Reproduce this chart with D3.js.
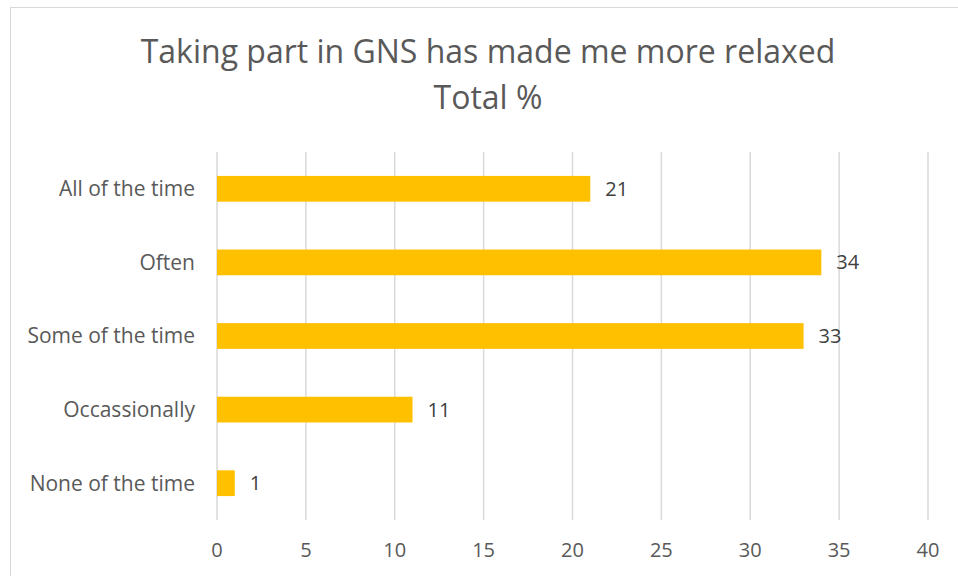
<!DOCTYPE html>
<html>
<head>
<meta charset="utf-8">
<script src="https://cdn.jsdelivr.net/npm/d3@7"></script>
<style>
  html, body { margin: 0; padding: 0; background: #fff; }
  svg { display: block; font-family: "Open Sans", "Liberation Sans", sans-serif; }
</style>
</head>
<body>
<svg id="chart" width="958" height="576"></svg>
<script>
// Survey responses, percentage of total
const categories = ["All of the time", "Often", "Some of the time", "Occassionally", "None of the time"];
const values = [21, 34, 33, 11, 1];
const xTicks = [0, 5, 10, 15, 20, 25, 30, 35, 40];
const titleLines = ["Taking part in GNS has made me more relaxed", "Total %"];

const svg = d3.select("#chart");

// chart area outline
svg.append("rect")
  .attr("x", 10.5).attr("y", 7.5)
  .attr("width", 960).attr("height", 600)
  .attr("fill", "#fff").attr("stroke", "#d9d9d9").attr("stroke-width", 1);

const x = d3.scaleLinear().domain([0, 40]).range([217, 928]);
const y = d3.scaleBand().domain(categories).range([152, 520])
  .paddingInner(0.65).paddingOuter(0.325);

// vertical gridlines
svg.append("g").selectAll("line").data(xTicks).join("line")
  .attr("x1", d => x(d)).attr("x2", d => x(d))
  .attr("y1", 152).attr("y2", 520)
  .attr("stroke", "#d9d9d9").attr("stroke-width", 1.5);

// bars
svg.append("g").selectAll("rect").data(values).join("rect")
  .attr("x", x(0))
  .attr("y", (d, i) => y(categories[i]))
  .attr("width", d => x(d) - x(0))
  .attr("height", y.bandwidth())
  .attr("fill", "#FFC000");

// value labels
svg.append("g").selectAll("text").data(values).join("text")
  .attr("x", d => x(d) + 15)
  .attr("y", (d, i) => y(categories[i]) + y.bandwidth() / 2)
  .attr("dy", "0.35em")
  .attr("font-size", 20)
  .attr("fill", "#404040")
  .text(d => d);

// category axis labels
svg.append("g").selectAll("text").data(categories).join("text")
  .attr("x", 195)
  .attr("y", d => y(d) + y.bandwidth() / 2)
  .attr("dy", "0.35em")
  .attr("text-anchor", "end")
  .attr("font-size", 21)
  .attr("fill", "#595959")
  .text(d => d);

// value axis tick labels
svg.append("g").selectAll("text").data(xTicks).join("text")
  .attr("x", d => x(d))
  .attr("y", 550)
  .attr("dy", "0.35em")
  .attr("text-anchor", "middle")
  .attr("font-size", 20)
  .attr("fill", "#595959")
  .text(d => d);

// title
svg.append("g").selectAll("text").data(titleLines).join("text")
  .attr("x", 488)
  .attr("y", (d, i) => 52 + i * 46)
  .attr("dy", "0.35em")
  .attr("text-anchor", "middle")
  .attr("font-size", 32)
  .attr("fill", "#595959")
  .text(d => d);
</script>
</body>
</html>
